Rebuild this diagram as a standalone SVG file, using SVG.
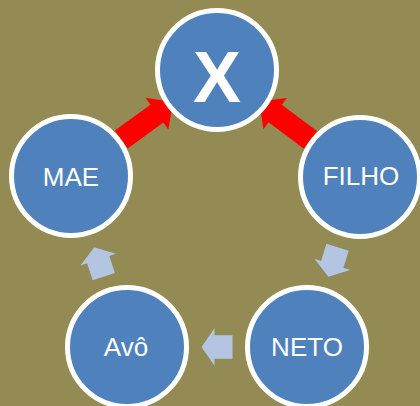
<svg xmlns="http://www.w3.org/2000/svg" width="420" height="406" viewBox="0 0 420 406">
<style>
.node circle{fill:#4F81BD;stroke:#FFFFFF;stroke-width:5}
.node text{fill:#FFFFFF;font-family:"Liberation Sans",Arial,sans-serif;font-size:26px;text-anchor:middle}
.red{fill:#FF0000}
.cyc{fill:#B3C5E1}
</style>
<defs>
<polygon id="bigArrow" points="0,-11 44,-11 44,-19.5 64,0 44,19.5 44,11 0,11"/>
<polygon id="smallArrow" points="-15.5,-11.7 2.5,-11.7 2.5,-18.7 15.5,0 2.5,18.7 2.5,11.7 -15.5,11.7"/>
</defs>
<rect x="0" y="0" width="420" height="406" fill="#948A54"/>
<g id="connectors">
<use href="#bigArrow" class="red" transform="translate(121.3,139.5) rotate(-36)"/>
<use href="#bigArrow" class="red" transform="translate(310.4,139.9) rotate(-143.2)"/>
<use href="#smallArrow" class="cyc" transform="translate(333,262) rotate(107.3)"/>
<use href="#smallArrow" class="cyc" transform="translate(217,347) rotate(180)"/>
<use href="#smallArrow" class="cyc" transform="translate(99,262) rotate(-108.1)"/>
</g>
<g id="node-x" class="node">
<circle cx="217" cy="70" r="59.5"/>
<text x="217" y="102" style="font-size:72px;font-weight:bold">X</text>
</g>
<g id="node-mae" class="node">
<circle cx="71" cy="176" r="59.5"/>
<text x="71" y="186">MAE</text>
</g>
<g id="node-filho" class="node">
<circle cx="360" cy="177" r="59.5"/>
<text x="361" y="185">FILHO</text>
</g>
<g id="node-avo" class="node">
<circle cx="127" cy="347" r="59.5"/>
<text x="126" y="356">Avô</text>
</g>
<g id="node-neto" class="node">
<circle cx="307" cy="347" r="59.5"/>
<text x="307" y="356">NETO</text>
</g>
</svg>
